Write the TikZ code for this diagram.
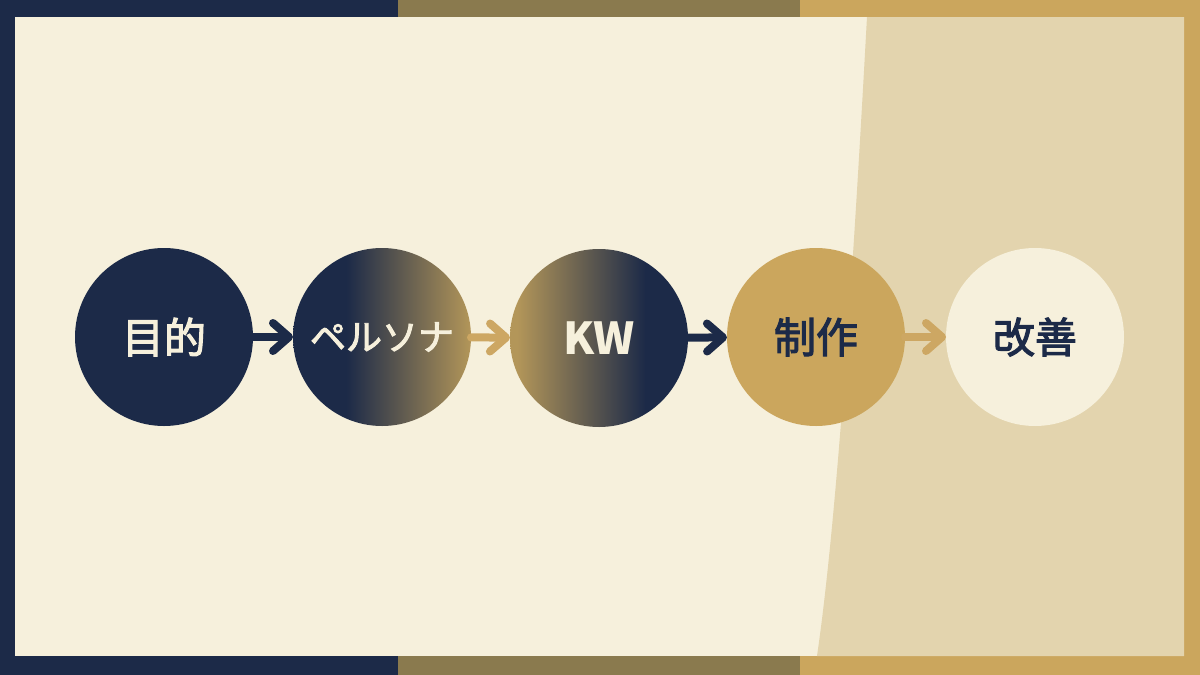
\documentclass[tikz,border=0pt]{standalone}
\usepackage{fontspec}
\usetikzlibrary{arrows.meta}
\newfontfamily\jpfont{Noto Sans CJK JP}[FakeBold=2.6]
\newfontfamily\kwfont{Noto Sans CJK JP}

\definecolor{navy}{HTML}{1C2A48}
\definecolor{olive}{HTML}{8A7A4E}
\definecolor{gold}{HTML}{CBA65D}
\definecolor{softgold}{HTML}{B39659}
\definecolor{cream}{HTML}{F6F0DC}
\definecolor{beige}{HTML}{E3D4AE}
\definecolor{arrowgold}{HTML}{CDA763}

\pgfdeclarehorizontalshading{navytogold}{100bp}{color(0bp)=(navy); color(40bp)=(navy); color(75bp)=(softgold); color(100bp)=(softgold)}
\pgfdeclarehorizontalshading{goldtonavy}{100bp}{color(0bp)=(softgold); color(27bp)=(softgold); color(63bp)=(navy); color(100bp)=(navy)}

\begin{document}
\begin{tikzpicture}[x=1pt,y=-1pt,
    stage/.style={circle,minimum size=178pt,inner sep=0pt,outer sep=0pt,
      font=\jpfont\fontsize{42}{42}\selectfont},
    flow/.style={line width=8pt,line cap=round,
      -{Straight Barb[round,length=16pt,width=28pt]}}]
    \useasboundingbox (0,0) rectangle (1200,675);
    % Frame bars
    \fill[navy] (0,0) rectangle (398,675);
    \fill[olive] (398,0) rectangle (800,675);
    \fill[gold] (800,0) rectangle (1200,675);
    % Panel and right band
    \fill[cream] (14.5,17) rectangle (1184,656);
    \fill[beige] (867,17) .. controls (858,180) and (840,500) .. (817,656)
        -- (1184,656) -- (1184,17) -- cycle;

    % Stages
    \node[stage,fill=navy,text=cream] (goal) at (164,337) {目的};
    \node[stage,shading=navytogold,text=cream,font=\jpfont\fontsize{36}{36}\selectfont] (persona) at (382,337) {ペルソナ};
    \node[stage,shading=goldtonavy,text=cream,font=\kwfont\bfseries\fontsize{44}{44}\selectfont] (kw) at (599,338) {KW};
    \node[stage,fill=gold,text=navy] (make) at (816,337) {制作};
    \node[stage,fill=cream,text=navy] (improve) at (1035,337) {改善};

    % Arrows between stages
    \draw[flow,navy] (goal) -- (persona);
    \draw[flow,arrowgold] (persona) -- (kw);
    \draw[flow,navy] (kw) -- (make);
    \draw[flow,arrowgold] (make) -- (improve);
\end{tikzpicture}
\end{document}
